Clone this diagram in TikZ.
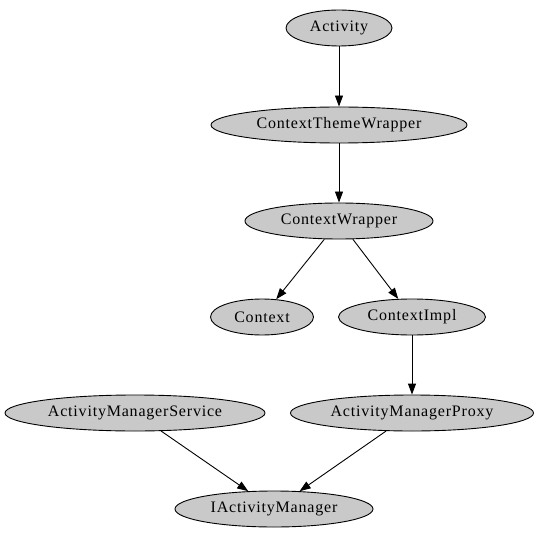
\documentclass[tikz,border=0pt]{standalone}
\usepackage{fontspec}
\setmainfont{Liberation Serif}[LetterSpace=5]
\usetikzlibrary{shapes.geometric,arrows.meta}
\begin{document}
\begin{tikzpicture}[x=1bp,y=-1bp,
  gv/.style={ellipse,draw=black,line width=0.9bp,fill=lightgray!85,inner sep=0pt,minimum height=36bp,font=\fontsize{16bp}{18bp}\selectfont},
  edge/.style={draw=black,line width=0.9bp,-{Triangle[length=11bp,width=8bp]}}]
\useasboundingbox (0,0) rectangle (541,539);
\node[gv,minimum width=106bp] (act) at (339,28) {Activity};
\node[gv,minimum width=256bp] (ctw) at (339,125) {ContextThemeWrapper};
\node[gv,minimum width=188bp] (cw) at (339,221) {ContextWrapper};
\node[gv,minimum width=103bp] (ctx) at (262,317) {Context};
\node[gv,minimum width=147bp] (ci) at (412,317) {ContextImpl};
\node[gv,minimum width=260bp] (ams) at (135,413) {ActivityManagerService};
\node[gv,minimum width=243bp] (amp) at (412,413) {ActivityManagerProxy};
\node[gv,minimum width=198bp] (iam) at (274,509) {IActivityManager};
\draw[edge] (act) -- (ctw);
\draw[edge] (ctw) -- (cw);
\draw[edge] (cw) -- (ctx);
\draw[edge] (cw) -- (ci);
\draw[edge] (ci) -- (amp);
\draw[edge] (ams) -- (iam);
\draw[edge] (amp) -- (iam);
\end{tikzpicture}
\end{document}
